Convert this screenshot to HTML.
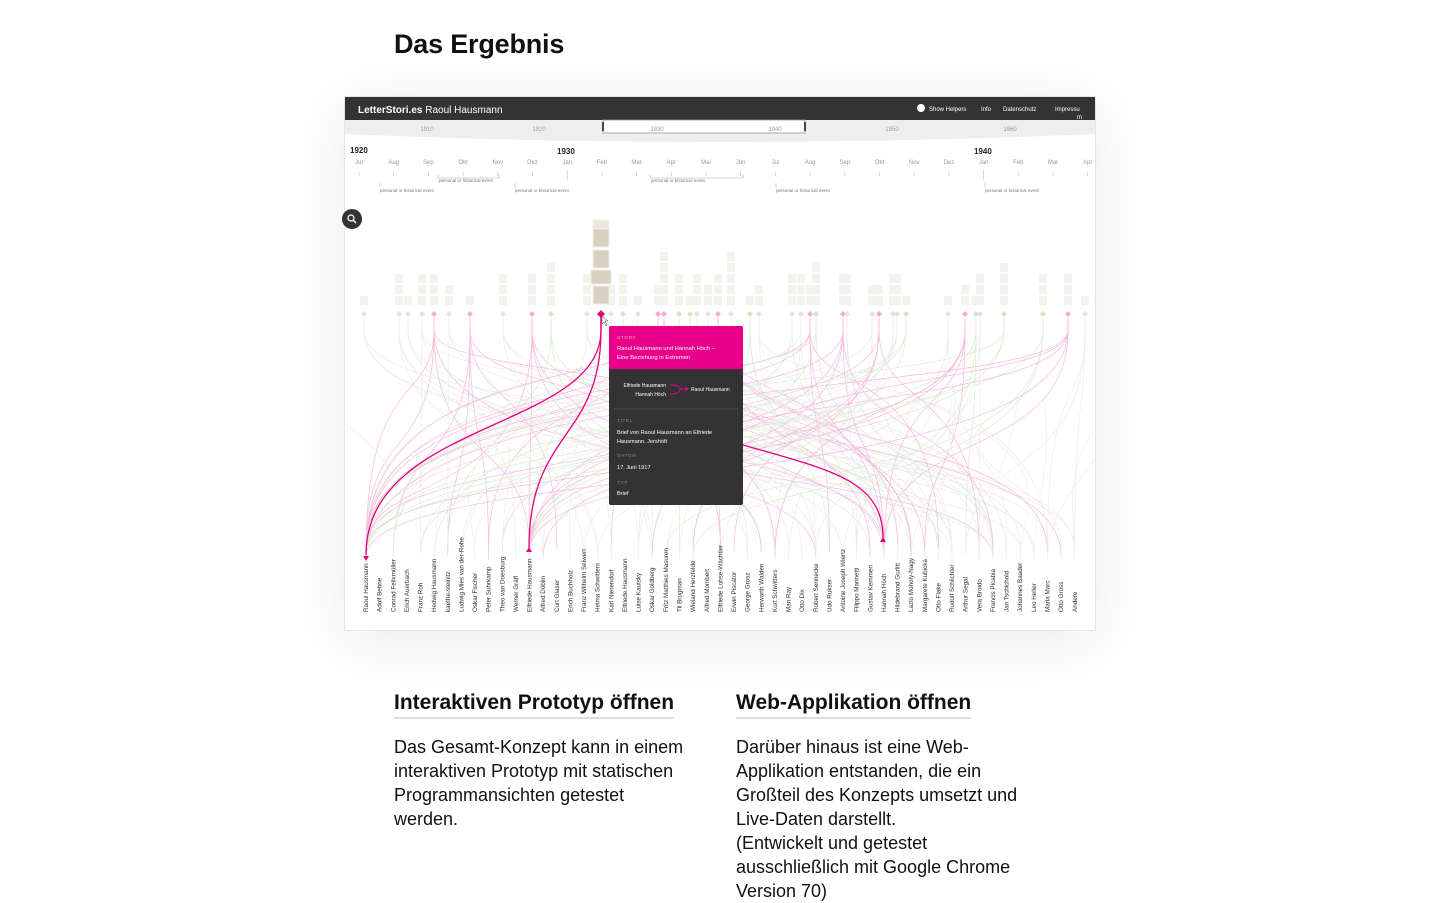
<!DOCTYPE html>
<html><head><meta charset="utf-8">
<style>
html,body{margin:0;padding:0;background:#fff;width:1440px;height:900px;overflow:hidden;font-family:"Liberation Sans",sans-serif;}
.h1{position:absolute;left:394px;top:29px;font-size:27px;font-weight:bold;color:#111;letter-spacing:-0.2px}
.h2{position:absolute;top:690px;font-size:21px;font-weight:bold;color:#111;border-bottom:2px solid #ddd;padding-bottom:1px;line-height:26px}
.p{position:absolute;top:735px;font-size:18px;line-height:24px;color:#111}
#frame{position:absolute;left:344px;top:96px;width:752px;height:535px;box-shadow:0 10px 60px rgba(0,0,0,0.08);background:#fff}
svg{position:absolute;left:0;top:0}
</style></head><body>
<div class="h1">Das Ergebnis</div>
<div id="frame"></div>
<svg id="s" width="1440" height="900" viewBox="0 0 1440 900" font-family="Liberation Sans, sans-serif">
<defs><clipPath id="cp"><rect x="345" y="200" width="750" height="430"/></clipPath></defs>
<rect x="344.5" y="96.5" width="751" height="534" fill="#fff" stroke="#e6e6e6"/>
<rect x="345" y="97" width="750" height="23" fill="#333"/>
<text x="358" y="113" font-size="10" fill="#fff"><tspan font-weight="bold">LetterStori.es</tspan> Raoul Hausmann</text>
<circle cx="921" cy="108" r="4" fill="#fff"/>
<text x="929" y="111" font-size="6" fill="#fff">Show Helpers</text>
<text x="981" y="111" font-size="6" fill="#fff">Info</text>
<text x="1003" y="111" font-size="6" fill="#fff">Datenschutz</text>
<text x="1055" y="111" font-size="6" fill="#fff">Impressu</text>
<text x="1077" y="119" font-size="6" fill="#fff">m</text>
<path d="M345 120 H1095 V134 Q720 150 345 134 Z" fill="#eee"/>
<rect x="603" y="120" width="202" height="13" fill="#fff" stroke="#999" stroke-width="0.8"/>
<rect x="602" y="122" width="2" height="9" fill="#444"/><rect x="804" y="122" width="2" height="9" fill="#444"/>
<g font-size="6" fill="#999" text-anchor="middle">
<text x="427" y="131">1910</text><text x="539" y="131">1920</text><text x="657" y="131">1930</text><text x="775" y="131">1940</text><text x="892" y="131">1950</text><text x="1010" y="131">1960</text>
</g>
<g font-size="8" font-weight="bold" fill="#222">
<text x="350" y="153">1920</text><text x="557" y="154">1930</text><text x="974" y="154">1940</text>
</g>
<g id="months" font-size="6" fill="#999" text-anchor="middle"></g>
<g font-size="4.5" fill="#777">
<path d="M438 175 V178 H499 V175 M380 183 V187 M515 183 V187 M650 175 V178 H743 V175 M776 183 V187 M985 183 V187" stroke="#aaa" stroke-width="0.6" fill="none"/>
<text x="439" y="182">personal or historical event</text>
<text x="380" y="192">personal or historical event</text>
<text x="515" y="192">personal or historical event</text>
<text x="651" y="182">personal or historical event</text>
<text x="776" y="192">personal or historical event</text>
<text x="985" y="192">personal or historical event</text>
</g>
<circle cx="352" cy="219" r="10" fill="#333"/>
<circle cx="351" cy="218" r="3" fill="none" stroke="#fff" stroke-width="1.3"/><path d="M353 220 L356 223" stroke="#fff" stroke-width="1.5"/>
<g id="bars"></g>
<g id="curves" fill="none" clip-path="url(#cp)"></g>
<g id="diam"></g>
<g id="names" font-size="6.3" fill="#333"></g>
<g id="hl" fill="none" stroke="#e5007d" stroke-width="1.3">
<path d="M601 316 V330 C601 430 366 420 366 555"/>
<path d="M601 316 V330 C601 440 529 430 529 548"/>
<path d="M743 445 C830 470 883 480 883 538"/>
</g>
<path d="M363 556 L369 556 L366 561Z M526 552 L532 552 L529 547Z M880 542 L886 542 L883 537Z" fill="#e5007d"/>
<path d="M601 310 L605 314 L601 318 L597 314Z" fill="#e5007d"/>
<path d="M602 316 L602 324 L604 322 L606 326 L607 325 L605 321 L608 321Z" fill="#fff" stroke="#333" stroke-width="0.5"/>
<g>
<rect x="609" y="326" width="134" height="179" rx="2" fill="#333"/>
<path d="M609 328 Q609 326 611 326 H741 Q743 326 743 328 V369 H609Z" fill="#e8008a"/>
<text x="617" y="339" font-size="4.8" fill="#fbb" letter-spacing="0.6">STORY</text>
<text x="617" y="350" font-size="5.8" fill="#fff">Raoul Hausmann und Hannah Höch –</text>
<text x="617" y="359" font-size="5.8" fill="#fff">Eine Beziehung in Extremen</text>
<text x="666" y="387" font-size="5" fill="#fff" text-anchor="end">Elfriede Hausmann</text>
<text x="666" y="396" font-size="5" fill="#fff" text-anchor="end">Hannah Höch</text>
<path d="M670 385 Q680 385 680 389 Q680 394 670 394 M680 389 H688 M685 387 L688 389 L685 391" stroke="#e8008a" fill="none" stroke-width="0.9"/>
<text x="691" y="391" font-size="5" fill="#fff">Raoul Hausmann</text>
<line x1="614" y1="409" x2="738" y2="409" stroke="#555" stroke-width="0.7"/>
<text x="617" y="422" font-size="4.8" fill="#888" letter-spacing="0.6">TITEL</text>
<text x="617" y="434" font-size="5.6" fill="#fff">Brief von Raoul Hausmann an Elfriede</text>
<text x="617" y="443" font-size="5.6" fill="#fff">Hausmann. Jershöft</text>
<text x="617" y="457" font-size="4.8" fill="#888" letter-spacing="0.6">DATUM</text>
<text x="617" y="469" font-size="5.6" fill="#fff">17. Juni 1917</text>
<text x="617" y="484" font-size="4.8" fill="#888" letter-spacing="0.6">TYP</text>
<text x="617" y="495" font-size="5.6" fill="#fff">Brief</text>
</g>
</svg>
<div class="h2" style="left:394px">Interaktiven Prototyp öffnen</div>
<div class="h2" style="left:736px">Web-Applikation öffnen</div>
<div class="p" style="left:394px">Das Gesamt-Konzept kann in einem<br>interaktiven Prototyp mit statischen<br>Programmansichten getestet<br>werden.</div>
<div class="p" style="left:736px">Darüber hinaus ist eine Web-<br>Applikation entstanden, die ein<br>Großteil des Konzepts umsetzt und<br>Live-Daten darstellt.<br>(Entwickelt und getestet<br>ausschließlich mit Google Chrome<br>Version 70)</div>
<script>
var NS="http://www.w3.org/2000/svg";
function el(p,t,a,txt){var e=document.createElementNS(NS,t);for(var k in a)e.setAttribute(k,a[k]);if(txt)e.textContent=txt;document.getElementById(p).appendChild(e);return e;}
var mon=["Jul","Aug","Sep","Okt","Nov","Dez","Jan","Feb","Mar","Apr","Mai","Jun","Jul","Aug","Sep","Okt","Nov","Dez","Jan","Feb","Mar","Apr"];
for(var i=0;i<mon.length;i++){var x=359+i*34.7;el("months","text",{x:x,y:164},mon[i]);
var big=(i==6||i==18);el("months","line",{x1:x,y1:big?170:172,x2:x,y2:big?180:176,stroke:"#bbb","stroke-width":0.6});}
var names=["Raoul Hausmann","Adolf Behne","Conrad Felixmüller","Erich Auerbach","Franz Roh","Hedwig Hausmann","kaethe-steinitz","Ludwig Mies van der-Rohe","Oskar Fischer","Peter Suhrkamp","Theo van Doesburg","Werner Gräff","Elfriede Hausmann","Alfred Döblin","Curt Glaser","Erich Buchholz","Franz Wilhelm Seiwert","Helma Schwitters","Karl Nierendorf","Elfriede Hausmann","Luise Kautsky","Oskar Goldberg","Fritz Matthies Masuren","Til Brugman","Wieland Herzfelde","Alfred Mombert","Elfriede Lohse-Wächtler","Erwin Piscator","George Grosz","Herwarth Walden","Kurt Schwitters","Man Ray","Otto Dix","Robert Sennecke","Udo Rukser","Antoine Joseph Wiertz","Filippo Marinetti","Gustav Kemmen","Hannah Höch","Hildebrand Gurlitt","Lazlo Moholy-Nagy","Margarete Kubicka","Otto Flake","Rudolf Schlichter","Arthur Segal","Vera Broido","Francis Picabia","Jan Tschichold","Johannes Baader","Leo Heller","Maria Marc","Otto Gross","Andere"];
var nx=[];
for(var i=0;i<names.length;i++){var x=366+i*13.63;nx.push(x);
el("names","text",{transform:"translate("+(x+2)+",612) rotate(-90)"},names[i]);}
var seed=7;function r(){seed=(seed*16807)%2147483647;return seed/2147483647;}
var D=[[364,"g"],[399,"g"],[408,"g"],[422,"g"],[434,"p"],[449,"g"],[470,"p"],[503,"g"],[532,"p"],[551,"G"],[587,"g"],[611,"g"],[623,"G"],[638,"g"],[658,"p"],[664,"p"],[679,"G"],[690,"G"],[697,"g"],[708,"g"],[718,"p"],[731,"g"],[750,"G"],[759,"g"],[792,"g"],[801,"g"],[810,"p"],[816,"G"],[843,"p"],[847,"g"],[872,"g"],[879,"p"],[893,"g"],[897,"g"],[906,"G"],[948,"g"],[965,"p"],[976,"G"],[980,"g"],[1004,"G"],[1043,"G"],[1068,"p"],[1085,"g"]];
var col={g:"#e2e2e2",p:"#f7a8d4",G:"#cfe8c0"};
var lc={g:"#ececec",p:"#f8b8dc",G:"#d9edcc"};
for(var i=0;i<D.length;i++){var x=D[i][0],n=1+Math.floor(r()*3);if(i%6==3)n+=2;
for(var k=0;k<n;k++)el("bars","rect",{x:x-4,y:296-k*11,width:8,height:9,fill:"#f4f2ec"});}
[[220,10],[229,18],[250,18],[270,14],[286,18]].forEach(function(a){el("bars","rect",{x:a[1]==14?591:593,y:a[0],width:a[1]==14?20:16,height:a[1],fill:a[1]==10?"#ece8de":"#d8d0c0",stroke:"#f2efe8","stroke-width":1});});
for(var i=0;i<D.length;i++){var x=D[i][0],c=D[i][1];var m=c=="p"?5:3;
for(var k=0;k<m;k++){var t;var rr=r();
if(c!="g"&&rr<0.45)t=[0,0,12,38][Math.floor(r()*4)];else t=Math.floor(r()*names.length);
var tx=nx[t],ty=545+r()*15,mid=330+r()*120;
el("curves","path",{d:"M"+x+" 318 V330 C"+x+" "+(mid+60)+" "+tx+" "+(mid+20)+" "+tx+" "+ty,stroke:lc[c],"stroke-width":0.7});}}
for(var i=0;i<names.length;i++){if(r()<0.5)continue;var x=nx[i];el("curves","path",{d:"M"+x+" 560 C"+x+" 500 "+(x+(r()-0.5)*120)+" 470 "+(x+(r()-0.5)*200)+" 400",stroke:"#eeeeee","stroke-width":0.7});}
for(var i=0;i<D.length;i++){var x=D[i][0];el("diam","path",{d:"M"+x+" 311 L"+(x+3)+" 314 L"+x+" 317 L"+(x-3)+" 314Z",fill:col[D[i][1]]});}
</script>
</body></html>
